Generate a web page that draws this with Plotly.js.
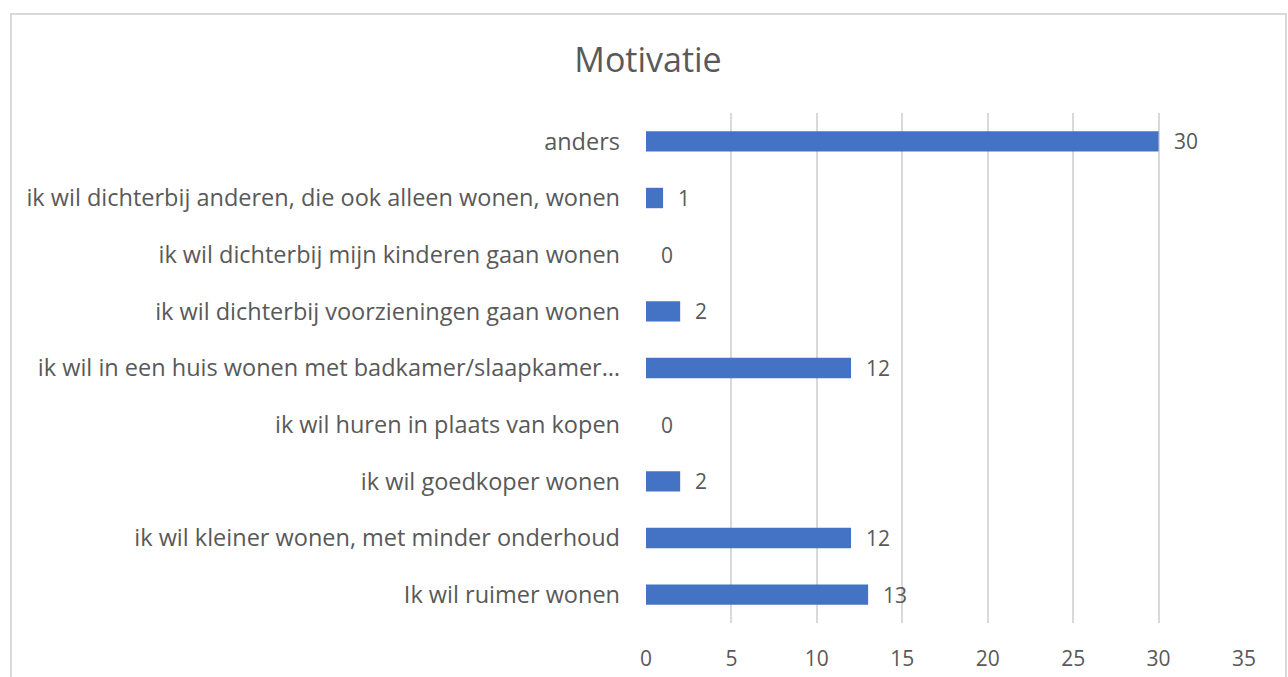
<!DOCTYPE html>
<html>
<head>
<meta charset="utf-8">
<script src="https://cdn.plot.ly/plotly-3.0.1.min.js"></script>
<style>
html,body{margin:0;padding:0;background:#fff;overflow:hidden;}
#chart{position:absolute;left:0;top:0;width:1288px;height:677px;}
#frame{position:absolute;left:10px;top:13px;width:1273px;height:700px;border:2px solid #d9d9d9;pointer-events:none;}
</style>
</head>
<body>
<div id="chart"></div>
<div id="frame"></div>
<script>
const categories = [
  "Ik wil ruimer wonen",
  "ik wil kleiner wonen, met minder onderhoud",
  "ik wil goedkoper wonen",
  "ik wil huren in plaats van kopen",
  "ik wil in een huis wonen met badkamer/slaapkamer…",
  "ik wil dichterbij voorzieningen gaan wonen",
  "ik wil dichterbij mijn kinderen gaan wonen",
  "ik wil dichterbij anderen, die ook alleen wonen, wonen",
  "anders"
];
const values = [13, 12, 2, 0, 12, 2, 0, 1, 30];
const xTicks = [0, 5, 10, 15, 20, 25, 30, 35];
const chartTitle = "Motivatie";

const fontFam = "'Open Sans', 'Liberation Sans', sans-serif";
const textColor = "#595959";

const trace = {
  type: "bar",
  orientation: "h",
  x: values,
  y: categories,
  marker: {color: "#4472C4"},
  hoverinfo: "x+y"
};

const annotations = values.map((v, i) => ({
  x: v, y: categories[i], xref: "x", yref: "y",
  text: String(v), showarrow: false, xanchor: "left", yanchor: "middle",
  xshift: 13, font: {family: fontFam, size: 21, color: textColor}
}));

const layout = {
  width: 1288, height: 677,
  paper_bgcolor: "#fff", plot_bgcolor: "#fff",
  margin: {l: 646, r: 44, t: 113, b: 54, pad: 0},
  title: {text: chartTitle, x: 648/1288, xref: "container", xanchor: "center", y: 1 - 60/677, yref: "container", yanchor: "middle",
          font: {family: fontFam, size: 34, color: textColor}},
  bargap: 0.64,
  showlegend: false,
  xaxis: {
    range: [0, 35], tickvals: xTicks, ticktext: xTicks.map(String),
    showgrid: true, gridcolor: "#d9d9d9", gridwidth: 2,
    zeroline: false, showline: false, ticks: "",
    ticklabelstandoff: 21,
    tickfont: {family: fontFam, size: 21, color: textColor}
  },
  yaxis: {
    type: "category", categoryorder: "array", categoryarray: categories,
    showgrid: false, zeroline: false, showline: false, ticks: "",
    ticklabelstandoff: 25,
    tickfont: {family: fontFam, size: 23.5, color: textColor}
  },
  annotations: annotations
};

Plotly.newPlot("chart", [trace], layout, {displayModeBar: false, staticPlot: true});
</script>
</body>
</html>
